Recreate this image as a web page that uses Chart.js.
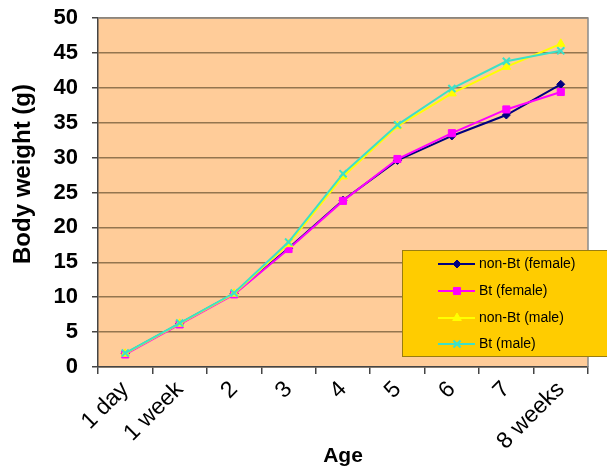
<!DOCTYPE html>
<html>
<head>
<meta charset="utf-8">
<script src="https://cdn.jsdelivr.net/npm/chart.js@4"></script>
<style>
  html, body { margin: 0; padding: 0; background: #fff; }
  #wrap { width: 607px; height: 469px; }
</style>
</head>
<body>
<div id="wrap"><canvas id="chart" width="607" height="469"></canvas></div>
<script>
// Body weight by age, four groups
const ages = ["1 day", "1 week", "2", "3", "4", "5", "6", "7", "8 weeks"];
const nonBtFemale = [1.9, 6.2, 10.5, 17.0, 23.9, 29.6, 33.1, 36.1, 40.5];
const btFemale    = [1.8, 6.1, 10.4, 16.9, 23.8, 29.8, 33.5, 36.9, 39.4];
const nonBtMale   = [1.9, 6.2, 10.5, 17.6, 27.3, 34.5, 39.2, 43.0, 46.3];
const btMale      = [2.0, 6.3, 10.6, 17.9, 27.7, 34.7, 39.9, 43.8, 45.3];
const seriesNames = ["non-Bt (female)", "Bt (female)", "non-Bt (male)", "Bt (male)"];
const yTitle = "Body weight (g)";

const FONT = "Arial, 'Liberation Sans', sans-serif";

// plot background + top/right frame
const plotBg = {
  id: "plotBg",
  beforeDraw(chart) {
    const { ctx, chartArea: a } = chart;
    ctx.save();
    ctx.fillStyle = "#FFCC99";
    ctx.fillRect(a.left, a.top, a.right - a.left, a.bottom - a.top);
    ctx.restore();
  },
  afterDatasetsDraw(chart) {
    const { ctx, chartArea: a } = chart;
    ctx.save();
    ctx.strokeStyle = "#8a8a8a";
    ctx.lineWidth = 1.5;
    ctx.beginPath();
    ctx.moveTo(a.left, a.top);
    ctx.lineTo(a.right, a.top);
    ctx.lineTo(a.right, a.bottom);
    ctx.stroke();
    ctx.restore();
  },
};

// y title sits a bit above the plot's middle in the original
const yTitlePlugin = {
  id: "yTitlePlugin",
  afterDraw(chart) {
    const { ctx } = chart;
    ctx.save();
    ctx.translate(23, 174);
    ctx.rotate(-Math.PI / 2);
    ctx.fillStyle = "#000";
    ctx.font = "bold 24px " + FONT;
    ctx.textAlign = "center";
    ctx.textBaseline = "middle";
    ctx.fillText(yTitle, 0, 0);
    ctx.restore();
  },
};

// legend box inside the plot, lower right
const boxLegend = {
  id: "boxLegend",
  afterDraw(chart) {
    const { ctx } = chart;
    const x = 402, y = 250, w = 210, h = 106;
    ctx.save();
    ctx.fillStyle = "#FFCC00";
    ctx.fillRect(x, y, w, h);
    ctx.strokeStyle = "#9a7d10";
    ctx.lineWidth = 1;
    ctx.strokeRect(x + 0.5, y + 0.5, w, h);
    const rows = [264, 291, 318, 344];
    chart.data.datasets.forEach((ds, i) => {
      const cy = rows[i];
      ctx.strokeStyle = ds.borderColor;
      ctx.fillStyle = ds.borderColor;
      ctx.lineWidth = 2;
      ctx.beginPath();
      ctx.moveTo(438, cy);
      ctx.lineTo(475, cy);
      ctx.stroke();
      ctx.lineWidth = ds.pointBorderWidth || 1;
      Chart.helpers.drawPoint(ctx, {
        pointStyle: ds.pointStyle,
        radius: ds.pointRadius,
        borderWidth: ds.pointBorderWidth || 1,
      }, 457, cy);
      ctx.fillStyle = "#000";
      ctx.font = "14px " + FONT;
      ctx.textBaseline = "middle";
      ctx.textAlign = "left";
      ctx.fillText(ds.label, 479, cy);
    });
    ctx.restore();
  },
};

function series(label, data, color, style, radius, order) {
  return {
    label, data, order,
    borderColor: color,
    backgroundColor: color,
    pointBackgroundColor: color,
    pointBorderColor: color,
    pointStyle: style,
    pointRadius: radius,
    pointBorderWidth: style === "crossRot" ? 2 : 1,
    borderWidth: 2,
    tension: 0,
  };
}

new Chart(document.getElementById("chart"), {
  type: "line",
  data: {
    labels: ages,
    datasets: [
      series(seriesNames[0], nonBtFemale, "#000080", "rectRot", 4, 4),
      series(seriesNames[1], btFemale, "#FF00FF", "rect", 5, 3),
      series(seriesNames[2], nonBtMale, "#FFFF00", "triangle", 5, 2),
      series(seriesNames[3], btMale, "#3de0c8", "crossRot", 5, 1),
    ],
  },
  options: {
    responsive: false,
    animation: false,
    layout: { padding: { left: 40, top: 18, right: 19, bottom: 0 } },
    plugins: { legend: { display: false }, tooltip: { enabled: false } },
    scales: {
      x: {
        offset: true,
        grid: { drawOnChartArea: false, drawTicks: true, tickLength: 7, offset: true, color: "#444", lineWidth: 1.5 },
        border: { color: "#444", width: 1.5 },
        ticks: { color: "#000", font: { family: FONT, size: 23 }, minRotation: 45, maxRotation: 45, padding: 2, autoSkip: false },
        title: { display: true, text: "Age", color: "#000", font: { family: FONT, size: 21, weight: "bold" }, padding: { top: 0, bottom: 0 } },
        afterFit(scale) { scale.height = 469 - 367; },
      },
      y: {
        min: 0, max: 50,
        grid: { color: "#94754f", lineWidth: 1.5, tickLength: 6, drawTicks: true, tickColor: "#444" },
        border: { color: "#444", width: 1.5 },
        // small lineHeight keeps the top label from pushing the plot down
        ticks: { stepSize: 5, color: "#000", font: { family: FONT, size: 22, weight: "bold", lineHeight: 0.3 }, padding: 14 },
        afterFit(scale) { scale.width = 98 - 40; },
      },
    },
  },
  plugins: [plotBg, boxLegend, yTitlePlugin],
});
</script>
</body>
</html>
